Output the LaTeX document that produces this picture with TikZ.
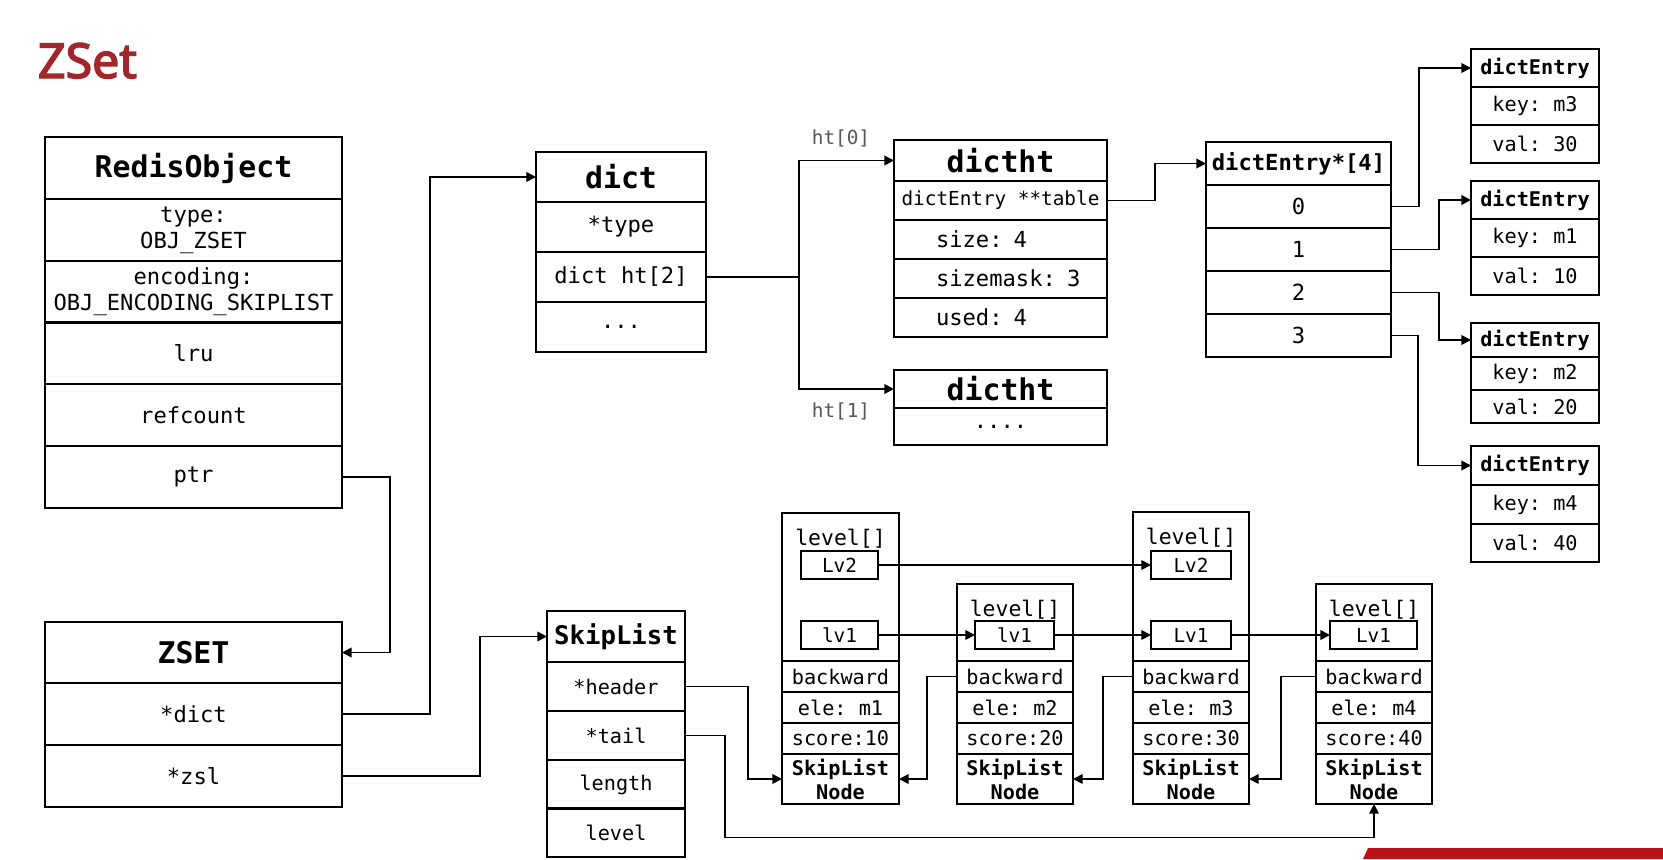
\documentclass[tikz,border=0pt]{standalone}
\usepackage{fontspec}
\setmonofont{DejaVu Sans Mono}
\newfontfamily\titlefont[FakeBold=3]{Noto Sans}
\usetikzlibrary{arrows.meta}
\definecolor{zsetred}{RGB}{163,38,42}
\definecolor{bannerred}{RGB}{185,18,24}
\definecolor{htgray}{RGB}{85,85,85}
\newcommand{\ptsz}[2]{\fontsize{#1}{#2}\selectfont}

\begin{document}
\begin{tikzpicture}[x=0.02cm,y=-0.02cm,
    wh/.style 2 args={minimum width=#1*0.02cm,minimum height=#2*0.02cm}]
        \tikzstyle{every node}+=[inner sep=0pt, outer sep=0pt]
        \tikzstyle{cell}=[draw, line width=1.25pt, anchor=north west, align=center, font=\ttfamily\ptsz{12.6}{14.8}]
        \tikzstyle{head}=[cell, font=\ttfamily\bfseries\ptsz{17}{20}]
        \tikzstyle{small}=[cell, font=\ttfamily\ptsz{11.5}{13.7}]
        \tikzstyle{smallhead}=[cell, font=\ttfamily\bfseries\ptsz{11.5}{13.7}]
        \tikzstyle{padl}=[text width=129*0.02cm, align=left]
        \tikzstyle{lvbox}=[cell, font=\ttfamily\ptsz{11}{12}]
        \tikzstyle{lvlarea}=[cell, label={[anchor=north,yshift=-0.32cm,font=\ttfamily\ptsz{12.2}{14}]north:{level[]}}]
        \tikzstyle{wire}=[line width=1pt]
        \tikzstyle{link}=[wire, -{Triangle[length=5.5pt,width=5.5pt]}]
        \useasboundingbox (0,0) rectangle (1663,859);

        \node[anchor=base west, text=zsetred, font=\titlefont\ptsz{27.5}{30}] (title) at (38,78) {ZSet};

        % RedisObject
        \node[head, wh={297}{62}] (ro) at (45,137) {RedisObject};
        \node[cell, wh={297}{62}] (ro-type) at (45,199) {type:\\OBJ\_ZSET};
        \node[cell, wh={297}{62}] (ro-enc) at (45,261) {encoding:\\OBJ\_ENCODING\_SKIPLIST};
        \node[cell, wh={297}{62}] (ro-lru) at (45,322) {lru};
        \node[cell, wh={297}{62}] (ro-ref) at (45,384) {refcount};
        \node[cell, wh={297}{62}] (ro-ptr) at (45,446) {ptr};

        % ZSET
        \node[head, wh={297}{61}] (zs) at (45,622) {ZSET};
        \node[cell, wh={297}{62}] (zs-dict) at (45,683) {*dict};
        \node[cell, wh={297}{62}] (zs-zsl) at (45,745) {*zsl};

        % dict
        \node[head, wh={170}{50}] (dc) at (536,152) {dict};
        \node[cell, wh={170}{50}] (dc-type) at (536,202) {*type};
        \node[cell, wh={170}{50}] (dc-ht) at (536,252) {dict ht[2]};
        \node[cell, wh={170}{50}] (dc-more) at (536,302) {...};

        % dictht
        \node[head, wh={213}{41}] (ht0) at (894,140) {dictht};
        \node[cell, font=\ttfamily\ptsz{11}{13}, wh={213}{39}] (ht0-tab) at (894,181) {dictEntry **table};
        \node[cell, padl, wh={213}{39}] (ht0-size) at (894,220) {\rlap{size: 4}};
        \node[cell, padl, wh={213}{39}] (ht0-mask) at (894,259) {\rlap{sizemask: 3}};
        \node[cell, padl, wh={213}{39}] (ht0-used) at (894,298) {\rlap{used: 4}};
        \node[head, wh={213}{38}] (ht1) at (894,370) {dictht};
        \node[cell, wh={213}{37}] (ht1-more) at (894,408) {....};
        \node[font=\ttfamily\ptsz{11}{13}, text=htgray] (lbl-ht0) at (841,138) {ht[0]};
        \node[font=\ttfamily\ptsz{11}{13}, text=htgray] (lbl-ht1) at (841,411) {ht[1]};

        % dictEntry*[4]
        \node[cell, font=\ttfamily\bfseries\ptsz{12.6}{14.8}, wh={185}{43}] (arr) at (1206,142) {dictEntry*[4]};
        \node[cell, wh={185}{43}] (arr-0) at (1206,185) {0};
        \node[cell, wh={185}{43}] (arr-1) at (1206,228) {1};
        \node[cell, wh={185}{43}] (arr-2) at (1206,271) {2};
        \node[cell, wh={185}{43}] (arr-3) at (1206,314) {3};

        % dictEntry
        \node[smallhead, wh={128}{38}] (e1) at (1471,49) {dictEntry};
        \node[small, wh={128}{38}] (e1-key) at (1471,87) {key: m3};
        \node[small, wh={128}{38}] (e1-val) at (1471,125) {val: 30};
        \node[smallhead, wh={128}{38}] (e2) at (1471,181) {dictEntry};
        \node[small, wh={128}{38}] (e2-key) at (1471,219) {key: m1};
        \node[small, wh={128}{38}] (e2-val) at (1471,257) {val: 10};
        \node[smallhead, wh={128}{34}] (e3) at (1471,323) {dictEntry};
        \node[small, wh={128}{33}] (e3-key) at (1471,357) {key: m2};
        \node[small, wh={128}{33}] (e3-val) at (1471,390) {val: 20};
        \node[smallhead, wh={128}{39}] (e4) at (1471,446) {dictEntry};
        \node[small, wh={128}{39}] (e4-key) at (1471,485) {key: m4};
        \node[small, wh={128}{38}] (e4-val) at (1471,524) {val: 40};

        % SkipList
        \node[cell, font=\ttfamily\bfseries\ptsz{14.6}{17}, wh={138}{51}] (sl) at (547,611) {SkipList};
        \node[small, wh={138}{49}] (sl-hdr) at (547,662) {*header};
        \node[small, wh={138}{49}] (sl-tail) at (547,711) {*tail};
        \node[small, wh={138}{49}] (sl-len) at (547,760) {length};
        \node[small, wh={138}{49}] (sl-lvl) at (547,808) {level};

        % SkipListNode m1
        \node[lvlarea, wh={117}{148}] (n1) at (782,513) {};
        \node[small, wh={117}{31}] (n1-back) at (782,661) {backward};
        \node[small, wh={117}{31}] (n1-ele) at (782,692) {ele: m1};
        \node[small, wh={117}{31}] (n1-score) at (782,723) {score:10};
        \node[smallhead, wh={117}{50}] (n1-name) at (782,754) {SkipList\\Node};
        \node[lvbox, wh={77}{28}] (n1-lv2) at (801,551) {Lv2};
        \node[lvbox, wh={77}{28}] (n1-lv1) at (801,621) {lv1};

        % SkipListNode m2
        \node[lvlarea, wh={116}{77}] (n2) at (957,584) {};
        \node[small, wh={116}{31}] (n2-back) at (957,661) {backward};
        \node[small, wh={116}{31}] (n2-ele) at (957,692) {ele: m2};
        \node[small, wh={116}{31}] (n2-score) at (957,723) {score:20};
        \node[smallhead, wh={116}{50}] (n2-name) at (957,754) {SkipList\\Node};
        \node[lvbox, wh={79}{28}] (n2-lv1) at (975,621) {lv1};

        % SkipListNode m3
        \node[lvlarea, wh={116}{149}] (n3) at (1133,512) {};
        \node[small, wh={116}{31}] (n3-back) at (1133,661) {backward};
        \node[small, wh={116}{31}] (n3-ele) at (1133,692) {ele: m3};
        \node[small, wh={116}{31}] (n3-score) at (1133,723) {score:30};
        \node[smallhead, wh={116}{50}] (n3-name) at (1133,754) {SkipList\\Node};
        \node[lvbox, wh={80}{28}] (n3-lv2) at (1151,551) {Lv2};
        \node[lvbox, wh={80}{28}] (n3-lv1) at (1151,621) {Lv1};

        % SkipListNode m4
        \node[lvlarea, wh={116}{77}] (n4) at (1316,584) {};
        \node[small, wh={116}{31}] (n4-back) at (1316,661) {backward};
        \node[small, wh={116}{31}] (n4-ele) at (1316,692) {ele: m4};
        \node[small, wh={116}{31}] (n4-score) at (1316,723) {score:40};
        \node[smallhead, wh={116}{50}] (n4-name) at (1316,754) {SkipList\\Node};
        \node[lvbox, wh={87}{28}] (n4-lv1) at (1330,621) {Lv1};

        % pointers
        \draw[link] (ro-ptr.east) -- ++(48,0) |- (zs.east);
        \draw[link] (zs-dict.east) -- ++(88,0) |- (dc.west);
        \draw[link] (zs-zsl.east) -- ++(138,0) |- (sl.west);
        \draw[wire] (dc-ht.east) -- ++(93,0) coordinate (fork);
        \draw[link] (fork) |- (ht0.west);
        \draw[link] (fork) |- (ht1.west);
        \draw[link] (ht0-tab.east) -- ++(48,0) |- (arr.west);
        \draw[link] (arr-0.east) -- ++(28,0) |- (e1.west);
        \draw[link] (arr-1.east) -- ++(48,0) |- (e2.west);
        \draw[link] (arr-2.east) -- ++(48,0) |- (e3.west);
        \draw[link] (arr-3.east) -- ++(27,0) |- (e4.west);
        \draw[link] (sl-hdr.east) -- ++(63,0) |- (n1-name.west);
        \draw[link] (sl-tail.east) -- ++(40,0) -- ++(0,102) -| (n4-name.south);
        \draw[link] (n2-back.west) -- ++(-30,0) |- (n1-name.east);
        \draw[link] (n3-back.west) -- ++(-30,0) |- (n2-name.east);
        \draw[link] (n4-back.west) -- ++(-35,0) |- (n3-name.east);
        \draw[link] (n1-lv2.east) -- (n3-lv2.west);
        \draw[link] (n1-lv1.east) -- (n2-lv1.west);
        \draw[link] (n2-lv1.east) -- (n3-lv1.west);
        \draw[link] (n3-lv1.east) -- (n4-lv1.west);

        \fill[bannerred] (1368,848) -- (1663,848) -- (1663,859) -- (1363,859) -- cycle;
        \end{tikzpicture}
\end{document}
